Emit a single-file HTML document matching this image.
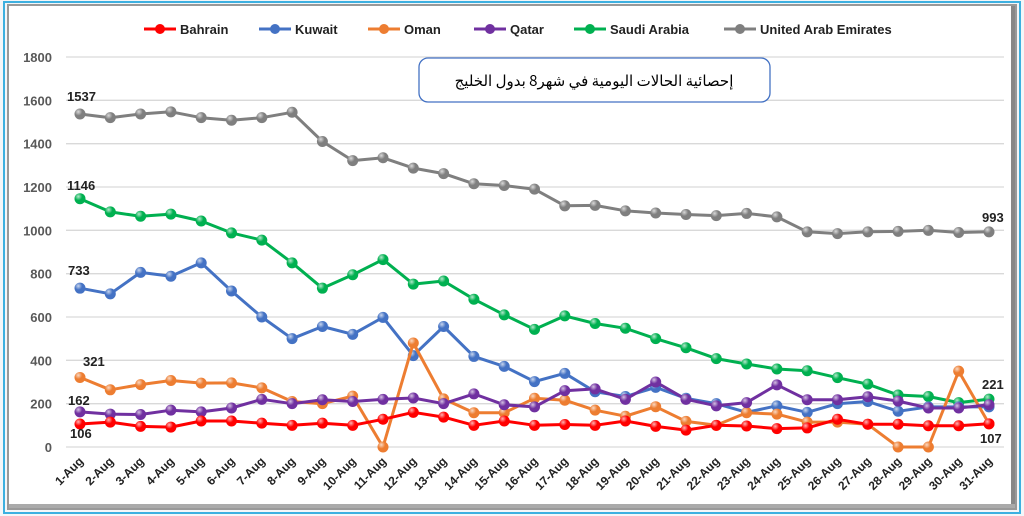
<!DOCTYPE html>
<html><head><meta charset="utf-8"><style>
body{margin:0;background:#fff;width:1024px;height:516px;overflow:hidden}
svg{display:block;font-family:"Liberation Sans",sans-serif}
</style></head><body>
<svg id="s" width="1024" height="516" xmlns="http://www.w3.org/2000/svg">
<defs>
<radialGradient id="g0" cx="35%" cy="30%" r="70%"><stop offset="0" stop-color="#fff" stop-opacity=".7"/><stop offset=".5" stop-color="#fff" stop-opacity="0"/></radialGradient>
</defs>
<rect x="0" y="0" width="1024" height="516" fill="#f4f6f8"/>
<rect x="4" y="2" width="1016" height="511" fill="none" stroke="#3db0e0" stroke-width="2"/>
<rect x="8" y="5" width="1008" height="504" fill="#fff" stroke="#999" stroke-width="2"/>
<rect x="1011" y="6" width="4" height="502" fill="#888"/>
<rect x="9" y="504" width="1006" height="4" fill="#aaa"/>
<g id="grid"></g>
<rect x="419" y="58" width="351" height="44" rx="9" fill="#fff" stroke="#4472c4" stroke-width="1.3"/>
<text x="594" y="86" text-anchor="middle" font-size="15" font-family="'Noto Sans CJK SC','DejaVu Sans',sans-serif" direction="rtl">إحصائية الحالات اليومية في شهر8 بدول الخليج</text>
<g id="series"></g>
<g id="legend" font-size="13" font-weight="bold" fill="#222"></g>
</svg>
<script>
var s=document.getElementById('s');var NS='http://www.w3.org/2000/svg';
function el(p,t,a,tx){var e=document.createElementNS(NS,t);for(var k in a)e.setAttribute(k,a[k]);if(tx!==undefined)e.textContent=tx;document.getElementById(p).appendChild(e);return e;}
function X(i){return 80+i*30.3}function Y(v){return 447-v*390/1800}
for(var v=0;v<=1800;v+=200){var y=Y(v);el('grid','line',{x1:66,x2:1004,y1:y,y2:y,stroke:'#d9d9d9','stroke-width':1.3});el('grid','text',{x:52,y:y+5,'text-anchor':'end','font-size':13,'font-weight':'bold',fill:'#595959'},v);}
for(var i=0;i<31;i++){var x=X(i)+4,y=462;el('grid','text',{x:x,y:y,'text-anchor':'end','font-size':12,'font-weight':'bold',fill:'#222',transform:'rotate(-45 '+x+' '+y+')'},(i+1)+'-Aug');}
var D=[
['United Arab Emirates','#7f7f7f',[1537,1520,1537,1547,1520,1508,1520,1545,1410,1322,1335,1287,1262,1215,1207,1190,1113,1115,1090,1080,1073,1068,1078,1062,993,985,993,995,1000,990,993]],
['Saudi Arabia','#00b050',[1146,1085,1065,1075,1043,988,955,850,733,795,865,752,766,682,610,543,605,570,548,500,458,408,383,360,352,320,290,240,233,205,221]],
['Kuwait','#4472c4',[733,707,806,788,850,720,600,500,556,520,598,422,556,418,372,302,340,255,233,275,225,200,160,190,160,200,210,165,185,185,185]],
['Oman','#ed7d31',[321,264,288,307,295,296,273,210,200,235,0,480,222,158,158,225,216,170,142,186,118,100,158,152,115,115,105,0,0,350,107]],
['Qatar','#7030a0',[162,152,150,170,162,180,220,200,218,210,220,226,200,245,195,185,260,268,220,300,220,190,205,287,218,218,232,212,180,180,195]],
['Bahrain','#ff0000',[106,115,95,92,120,120,110,100,110,100,128,160,138,100,120,100,104,100,120,95,78,100,97,85,88,128,105,105,98,98,107]]];
D.forEach(function(d){var p=d[2].map(function(v,i){return X(i).toFixed(1)+','+Y(v).toFixed(1)}).join(' ');
el('series','polyline',{points:p,fill:'none',stroke:d[1],'stroke-width':3,'stroke-linejoin':'round'});
d[2].forEach(function(v,i){el('series','circle',{cx:X(i),cy:Y(v),r:5.5,fill:d[1]});el('series','circle',{cx:X(i),cy:Y(v),r:5.5,fill:'url(#g0)'});});});
var L=[[67,101,'1537'],[67,190,'1146'],[68,275,'733'],[83,366,'321'],[68,405,'162'],[70,438,'106'],[982,222,'993'],[982,389,'221'],[980,443,'107']];
L.forEach(function(a){el('series','text',{x:a[0],y:a[1],'font-size':13,'font-weight':'bold',fill:'#222'},a[2]);});
var lg=[['Bahrain','#ff0000',160],['Kuwait','#4472c4',275],['Oman','#ed7d31',384],['Qatar','#7030a0',490],['Saudi Arabia','#00b050',590],['United Arab Emirates','#7f7f7f',740]];
lg.forEach(function(l){el('legend','line',{x1:l[2]-16,x2:l[2]+16,y1:29,y2:29,stroke:l[1],'stroke-width':3});el('legend','circle',{cx:l[2],cy:29,r:5,fill:l[1]});el('legend','text',{x:l[2]+20,y:34},l[0]);});
</script>
</body></html>
